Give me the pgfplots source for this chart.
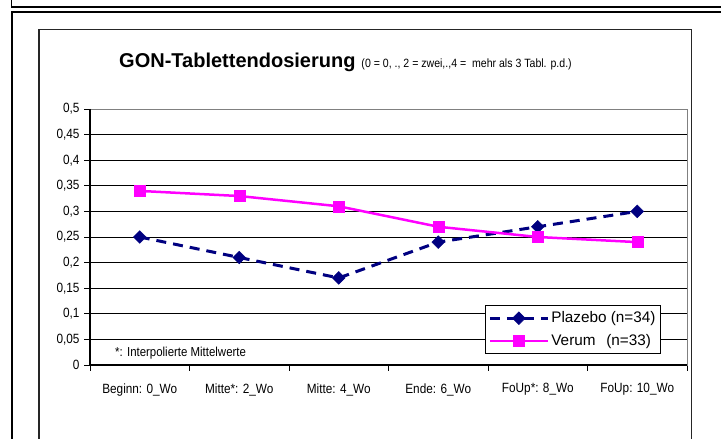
\documentclass[border=0pt]{standalone}
\usepackage{pgfplots}
\pgfplotsset{compat=1.18}
\usepackage{fontspec}
\setmainfont{Liberation Sans}
\newfontfamily\narrowfont[FakeStretch=0.88]{Liberation Sans}
\definecolor{plnavy}{RGB}{0,0,128}
\definecolor{vemag}{RGB}{255,0,255}
\begin{document}
\begin{tikzpicture}[x=1pt,y=1pt]
\path[use as bounding box] (0,0) rectangle (721,439);
\begin{scope}
\clip (0,0) rectangle (721,439);
\draw[line width=1.5pt] (11.5,450) -- (11.5,432) -- (730,432);
\draw[line width=2pt] (12,-10) -- (12,427) -- (730,427);
\draw[line width=1.3pt, black!85] (39,-10) -- (39,409.5) -- (691.7,409.5) -- (691.7,-10);
\end{scope}
\node[anchor=base west, inner sep=0pt] at (119,371) {{\fontsize{20}{22}\selectfont\bfseries GON-Tablettendosierung}\hspace{6pt}{\narrowfont\fontsize{12}{14}\selectfont (0 = 0, ., 2 = zwei,.,4 =\ \ mehr als 3 Tabl. p.d.)}};
\begin{axis}[
  at={(90pt,74pt)}, anchor=south west,
  scale only axis, width=597pt, height=256pt,
  xmin=-0.5, xmax=5.5, ymin=0, ymax=0.5,
  xtick={0,1,2,3,4,5},
  xticklabels={Beginn: 0\_Wo, Mitte*: 2\_Wo, Mitte: 4\_Wo, Ende: 6\_Wo, FoUp*: 8\_Wo, FoUp: 10\_Wo},
  minor xtick={-0.5,0.5,1.5,2.5,3.5,4.5,5.5},
  ytick={0,0.05,0.1,0.15,0.2,0.25,0.3,0.35,0.4,0.45,0.5},
  yticklabels={0,{0,05},{0,1},{0,15},{0,2},{0,25},{0,3},{0,35},{0,4},{0,45},{0,5}},
  tick pos=left, tick align=outside,
  major tick length=6pt, minor tick length=6pt,
  xtick style={draw=none},
  minor x tick style={draw=black, line width=0.8pt},
  ytick style={draw=black, line width=0.8pt},
  ymajorgrids, major grid style={black, line width=0.8pt},
  axis line style={draw=black!50, line width=0.8pt},
  tick label style={font=\narrowfont\fontsize{13.4}{15}\selectfont},
  xticklabel style={yshift=-9pt},
  yticklabel style={xshift=-1pt},
  legend style={at={(0.6616,0.2344)}, anchor=north west, draw=black, line width=0.8pt,
    font=\fontsize{15.3}{18}\selectfont, inner xsep=3pt, inner ysep=4.5pt, row sep=6pt},
  legend cell align=left,
  legend image code/.code={\draw[#1, mark repeat=2, mark phase=2] plot coordinates {(0pt,0pt) (29pt,0pt) (58pt,0pt)};},
  after end axis/.code={
    \draw[black, line width=1.3pt] (rel axis cs:0,1) -- (rel axis cs:0,0) -- (rel axis cs:1,0);
    \node[anchor=west, inner sep=0pt, font=\narrowfont\fontsize{13}{15}\selectfont] at (rel axis cs:0.0419,0.047) {*: Interpolierte Mittelwerte};
  },
]
\addplot[color=plnavy, line width=3pt, dash pattern=on 10pt off 7pt, mark=square*, mark size=4.5pt,
  mark options={solid, rotate=45, fill=plnavy, line width=0.5pt}]
  coordinates {(0,0.25) (1,0.21) (2,0.17) (3,0.24) (4,0.27) (5,0.30)};
\addlegendentry{Plazebo (n=34)}
\addplot[color=vemag, line width=2.5pt, mark=square*, mark size=5.5pt,
  mark options={solid, fill=vemag, line width=0.5pt}]
  coordinates {(0,0.34) (1,0.33) (2,0.31) (3,0.27) (4,0.25) (5,0.24)};
\addlegendentry{\makebox[55pt][l]{Verum}(n=33)}
\end{axis}
\end{tikzpicture}
\end{document}
